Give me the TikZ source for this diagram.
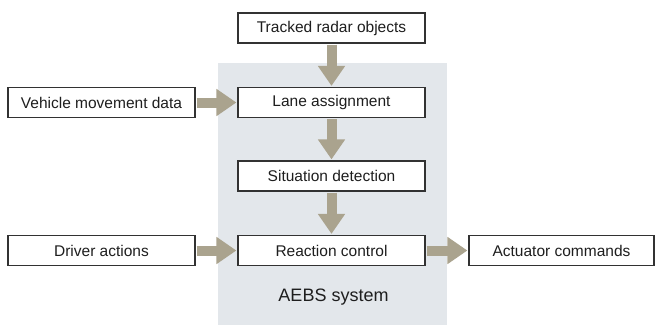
\documentclass[tikz,border=0pt]{standalone}
\usepackage{fontspec}
\setmainfont{Liberation Sans}
\usetikzlibrary{arrows.meta}
\definecolor{panel}{RGB}{227,231,235}
\definecolor{arrowc}{RGB}{170,163,142}
\definecolor{boxline}{RGB}{50,50,50}
\definecolor{txt}{RGB}{30,30,30}
\begin{document}
\begin{tikzpicture}[x=1pt,y=-1pt,
  blk/.style={draw=boxline, line width=1.6pt, fill=white, text=txt,
    minimum width=187pt, minimum height=30pt, inner sep=0pt,
    font=\fontsize{15.5}{18}\selectfont},
  flow/.style={draw=arrowc, line width=10pt, shorten <=0.8pt, shorten >=0.8pt,
    -{Triangle[length=20pt,width=26pt]}}]
\useasboundingbox (0,0) rectangle (655,325);
\node[fill=panel, minimum width=229pt, minimum height=262pt, inner sep=0pt, anchor=north west] (panel) at (218,63) {};
\node[blk] (tro) at (331.5,28) {Tracked radar objects};
\node[blk] (lane) at (331.5,102.5) {Lane assignment};
\node[blk] (sit) at (331.5,176) {Situation detection};
\node[blk] (rc) at (331.5,250.5) {Reaction control};
\node[blk] (veh) at (101.5,102.5) {Vehicle movement data};
\node[blk] (drv) at (101.5,250.5) {Driver actions};
\node[blk, minimum width=185pt] (act) at (561.5,250.5) {Actuator commands};
\node[text=txt, font=\fontsize{18}{20}\selectfont] (lbl) at (333.5,297) {AEBS system};
\draw[flow] (tro) -- (lane);
\draw[flow] (lane) -- (sit);
\draw[flow] (sit) -- (rc);
\draw[flow] (veh) -- (lane);
\draw[flow] (drv) -- (rc);
\draw[flow] (rc) -- (act);
\end{tikzpicture}
\end{document}
